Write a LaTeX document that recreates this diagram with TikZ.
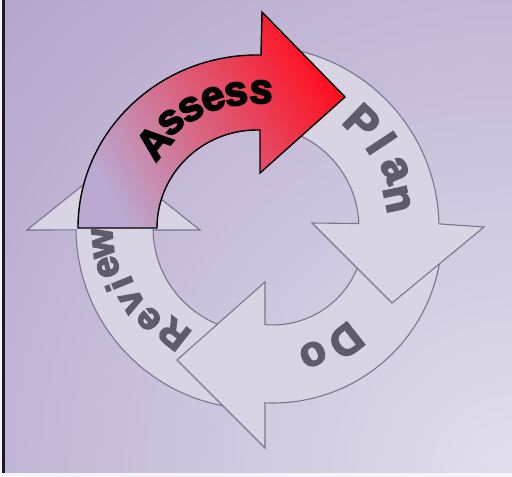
\documentclass[tikz,border=0pt]{standalone}
\usepackage{fontspec}
\newfontfamily\heavyfont[FakeBold=4]{Liberation Sans Bold}
\definecolor{bgbase}{RGB}{178,164,202}
\definecolor{bglight}{RGB}{226,222,236}
\definecolor{darkedge}{RGB}{30,24,44}
\definecolor{arrowgrey}{RGB}{217,212,228}
\definecolor{edgegrey}{RGB}{122,116,140}
\definecolor{lettergrey}{RGB}{96,91,108}
\definecolor{assesslow}{RGB}{186,168,208}
\definecolor{assessmid}{RGB}{232,100,138}
\definecolor{assesshigh}{RGB}{255,14,30}
\begin{document}
\begin{tikzpicture}[x=1pt,y=1pt,
  greyarrow/.style={fill=arrowgrey,draw=edgegrey,line width=1.1pt,line join=miter},
  redarrow/.style={draw=black,line width=1.4pt,line join=miter,
    bottom color=assesslow,middle color=assessmid,top color=assesshigh,shading angle=-60},
  blackletter/.style={text=black,inner sep=0pt,font=\heavyfont\fontsize{42}{42}\selectfont},
  planletter/.style={text=lettergrey,inner sep=0pt,font=\heavyfont\fontsize{44}{44}\selectfont},
  doletter/.style={text=lettergrey,inner sep=0pt,font=\heavyfont\fontsize{42}{42}\selectfont},
  reviewletter/.style={text=lettergrey,inner sep=0pt,font=\heavyfont\fontsize{38}{38}\selectfont}]
\useasboundingbox (0,0) rectangle (512,-477);
% background
\fill[bgbase] (0,0) rectangle (512,-477);
\begin{scope}
  \clip (0,0) rectangle (512,-477);
  \shade[inner color=bglight,outer color=bgbase] (512,-477) circle (720);
\end{scope}
\fill[white!88!bgbase] (0,-473) rectangle (512,-477);
\fill[white!88!bgbase] (0,0) rectangle (2,-473);
\fill[darkedge] (2,0) rectangle (5,-473);
% arrows
\begin{scope}[shift={(257,-228)}]
  % Review
  \draw[greyarrow] (270:181) arc[start angle=270,end angle=180.6,radius=181]
     -- (-230,-2) -- (-144,67) -- (-57,-2)
     -- (181.1:104) arc[start angle=181.1,end angle=270,radius=104] -- cycle;
  % Do
  \draw[greyarrow] (185,-6) arc[start angle=0,end angle=-92.7,radius=169]
     -- (8,-220) -- (-80,-132) -- (8,-54)
     -- (8,-96.6) arc[start angle=-95,end angle=0,radius=91] -- cycle;
  % Plan
  \draw[greyarrow] (87:182) arc[start angle=87,end angle=1.3,radius=182]
     -- (227,1) -- (135,-75) -- (55,5)
     -- (2.5:102) arc[start angle=2.5,end angle=87,radius=102] -- cycle;
  % Assess
  \shade[redarrow] (-179,0) arc[start angle=180,end angle=90,x radius=179,y radius=173]
     -- (4,173) -- (5,216) -- (88,131) -- (3,55) -- (3,98)
     -- (0,98) arc[start angle=90,end angle=180,x radius=100,y radius=98] -- cycle;
\end{scope}
% Assess
\node[blackletter,rotate=50.4] (as1) at (154,-142) {A};
\node[blackletter,rotate=39.4] (as2) at (171,-122) {s};
\node[blackletter,rotate=29.6] (as3) at (191,-109) {s};
\node[blackletter,rotate=18.8] (as4) at (213,-99) {e};
\node[blackletter,rotate=9.4] (as5) at (236,-94) {s};
\node[blackletter,rotate=-1.7] (as6) at (261,-92) {s};
% Plan
\node[planletter,rotate=-44] (pl1) at (362,-122) {P};
\node[planletter,rotate=-56.5] (pl2) at (381.5,-143) {l};
\node[planletter,rotate=-67] (pl3) at (395,-170) {a};
\node[planletter,rotate=-77.8] (pl4) at (397,-199) {n};
% Do
\node[doletter,rotate=-141.8] (do1) at (346,-341) {D};
\node[doletter,rotate=-156] (do2) at (313,-354) {o};
% Review
\node[reviewletter,rotate=141.9] (rv1) at (174,-334) {R};
\node[reviewletter,rotate=130.1] (rv2) at (149,-319) {e};
\node[reviewletter,rotate=120.3] (rv3) at (132,-301) {v};
\node[reviewletter,rotate=112] (rv4) at (119,-284) {i};
\node[reviewletter,rotate=104.7] (rv5) at (108,-267) {e};
\node[reviewletter,rotate=95.6] (rv6) at (103,-243) {w};
\end{tikzpicture}
\end{document}
